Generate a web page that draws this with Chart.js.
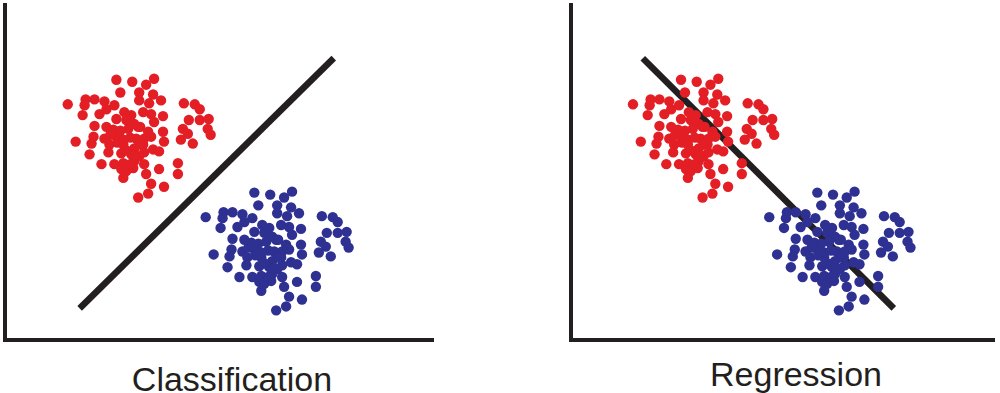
<!DOCTYPE html>
<html>
<head>
<meta charset="utf-8">
<script src="https://cdn.jsdelivr.net/npm/chart.js@4.4.1/dist/chart.umd.min.js"></script>
<style>
  html, body { margin: 0; padding: 0; background: #ffffff; }
  body { width: 1000px; height: 393px; position: relative; overflow: hidden; }
  canvas { position: absolute; top: 0; }
  #c1 { left: 0; }
  #c2 { left: 566px; }
  .lbl { position: absolute; font-family: "Liberation Sans", Arial, sans-serif; font-size: 34px; line-height: 34px; color: #231f20; white-space: nowrap; transform: translateX(-50%); }
</style>
</head>
<body>
<canvas id="c1" width="440" height="345"></canvas>
<canvas id="c2" width="434" height="345"></canvas>
<div class="lbl" id="t1" style="left:232px; top:362px;">Classification</div>
<div class="lbl" id="t2" style="left:796px; top:357px;">Regression</div>
<script>
// ---- data (arbitrary units) ----
const panelTitles = ["Classification", "Regression"];

const redX = [112,128,150,142,116,135,149,81,90,100,63,80,110,135,145,157,180,191,196,78,95,102,120,127,139,147,159,150,130,122,112,185,196,205,90,102,109,124,134,144,159,179,204,207,184,89,100,112,119,132,140,147,160,177,189,71,87,105,119,130,139,149,155,85,104,117,127,135,97,110,119,130,140,155,174,174,117,122,129,119,142,147,160,144,134,116,126,135,122,131,140,113,126,136,106];
const redY = [265,263,266,260,252,252,250,245,245,243,240,239,239,244,241,244,241,240,235,229,230,235,232,229,232,230,228,222,220,224,225,224,224,225,218,217,214,215,217,212,212,215,215,209,210,207,205,207,204,205,205,207,202,204,200,202,200,199,199,195,199,194,192,189,191,190,189,187,179,179,180,182,179,174,180,169,174,172,175,165,169,159,156,149,145,213,206,199,193,188,191,201,179,217,209];

const blueX = [251,267,289,281,255,274,288,220,229,239,202,219,249,274,284,296,319,330,335,217,234,241,259,266,278,286,298,289,269,261,251,324,335,344,229,241,248,263,273,283,298,318,343,346,323,228,239,251,258,271,279,286,299,316,328,210,226,244,258,269,278,288,294,224,243,256,266,274,236,249,258,269,279,294,313,313,256,261,268,258,281,286,299,283,273,255,265,274,261,270,279,252,265,275,245];
const blueY = [150,148,151,145,137,137,135,130,130,128,125,124,124,129,126,129,126,125,120,114,115,120,117,114,117,115,113,107,105,109,110,109,109,110,103,102,99,100,102,97,97,100,100,94,95,92,90,92,89,90,90,92,87,89,85,87,85,84,84,80,84,79,77,74,76,75,74,72,64,64,65,67,64,59,65,54,59,57,60,50,54,44,41,34,30,98,91,84,78,73,76,86,64,102,94];

const classLineX = [75, 331];
const classLineY = [32, 287];
const regLineX = [73, 329];
const regLineY = [287, 32];

const RED = '#e31e24';
const BLUE = '#2e3192';
const INK = '#231f20';

function pts(xs, ys) { return xs.map((x, i) => ({ x: x, y: ys[i] })); }

function makeChart(id, xMax, padRight, lx, ly) {
  new Chart(document.getElementById(id), {
    type: 'scatter',
    data: {
      datasets: [
        { data: pts(redX, redY), backgroundColor: RED, borderColor: RED, borderWidth: 0, pointRadius: 5.2, pointHoverRadius: 5.2 },
        { data: pts(blueX, blueY), backgroundColor: BLUE, borderColor: BLUE, borderWidth: 0, pointRadius: 5.2, pointHoverRadius: 5.2 },
        { type: 'line', data: pts(lx, ly), borderColor: INK, borderWidth: 6.5, pointRadius: 0, showLine: true, fill: false, borderCapStyle: 'butt' }
      ]
    },
    options: {
      responsive: false,
      animation: false,
      devicePixelRatio: 1,
      layout: { padding: { left: 2, right: padRight, top: 0, bottom: 4 } },
      plugins: { legend: { display: false }, tooltip: { enabled: false }, title: { display: false } },
      scales: {
        x: { type: 'linear', min: 0, max: xMax, ticks: { display: false }, grid: { display: false, drawTicks: false }, border: { display: true, color: INK, width: 4 },
             afterFit: s => { s.height = 0; } },
        y: { type: 'linear', min: 0, max: 341, ticks: { display: false }, grid: { display: false, drawTicks: false }, border: { display: true, color: INK, width: 4 },
             afterFit: s => { s.width = 0; } }
      }
    }
  });
}

makeChart('c1', 431, 7, classLineX, classLineY);
makeChart('c2', 432, 0, regLineX, regLineY);
</script>
</body>
</html>
